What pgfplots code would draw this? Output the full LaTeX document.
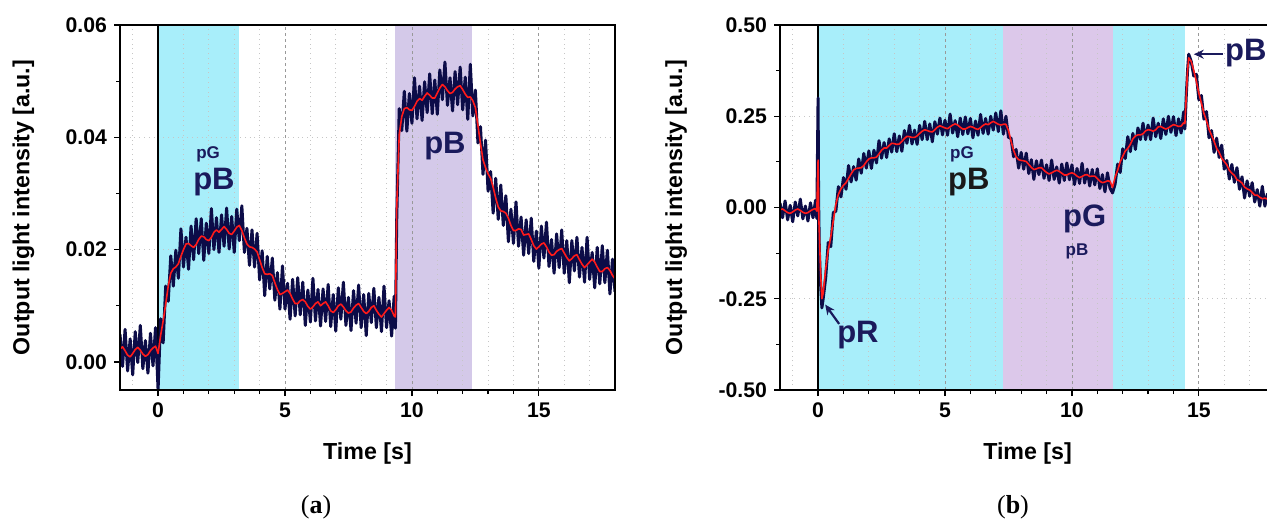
\documentclass[border=0pt]{standalone}
\usepackage{pgfplots}
\pgfplotsset{compat=1.18}
\usepackage{fontspec}
\setmainfont{Liberation Sans}
\newfontfamily\capfont{Liberation Serif}
\usetikzlibrary{arrows.meta}

\definecolor{trace}{HTML}{0C0C48}
\definecolor{redline}{HTML}{FF1A1A}
\definecolor{bandC}{HTML}{A8EEFA}
\definecolor{bandL}{HTML}{D4C9E9}
\definecolor{bandP}{HTML}{DCC8EA}
\definecolor{note}{HTML}{1A1A5C}

\tikzset{
  gridminor/.style={gray!45, dotted, line width=0.4pt},
  gridmajor/.style={gray!80, dash pattern=on 1.5pt off 1.5pt, line width=0.4pt},
  big/.style={note, font=\fontsize{15.5}{17}\selectfont\bfseries},
  small/.style={note, font=\fontsize{8.5}{10}\selectfont\bfseries},
  noisy/.style={trace, line width=1.5pt, line join=round},
  filt/.style={redline, line width=0.8pt, line join=round},
}

\pgfplotsset{
  panel/.style={
    scale only axis, width=247.5pt, height=182.5pt,
    xmin=-1.5, xmax=18,
    xtick={0,5,10,15}, minor x tick num=4, minor y tick num=1,
    tick pos=left, tick align=outside,
    major tick length=3pt, minor tick length=2pt,
    tick style={black, line width=0.6pt},
    axis line style={black, line width=0.7pt},
    axis on top,
    ticklabel style={font=\fontsize{10.6}{12}\selectfont\bfseries},
    /pgf/number format/assume math mode=true,
    xlabel={Time [s]}, ylabel={Output light intensity [a.u.]},
    label style={font=\fontsize{11.6}{13}\selectfont\bfseries},
    xlabel style={at={(axis description cs:0.5,-0.173)}, anchor=center},
    ylabel style={at={(axis description cs:-0.195,0.5)}, anchor=center},
  },
}

\begin{document}
\begin{tikzpicture}
\useasboundingbox (0,0) rectangle (633.5pt,260pt);

% (a) values in units of 0.001
\begin{axis}[panel, at={(60pt,65pt)}, anchor=south west,
  ymin=-5, ymax=60, ytick={0,20,40,60}, yticklabels={0.00,0.02,0.04,0.06}]
\fill[bandC] (axis cs:0,-5) rectangle (axis cs:3.2,60);
\fill[bandL] (axis cs:9.35,-5) rectangle (axis cs:12.35,60);
\pgfplotsinvokeforeach{-1,1,2,3,4,6,7,8,9,11,12,13,14,16,17}{\draw[gridminor] (axis cs:#1,-5) -- (axis cs:#1,60);}
\pgfplotsinvokeforeach{5,10,15}{\draw[gridmajor] (axis cs:#1,-5) -- (axis cs:#1,60);}
\pgfplotsinvokeforeach{20,40}{\draw[gridminor] (axis cs:-1.5,#1) -- (axis cs:18,#1);}
\draw[black, line width=0.6pt] (axis cs:0,-5) -- (axis cs:0,60);
\addplot[noisy] coordinates {
(-1.5,4.9)(-1.4,-0.8)(-1.3,5.8)(-1.2,-1.6)(-1.1,4.1)(-1.0,-2.3)(-0.9,5.4)(-0.8,-0.1)(-0.7,6.5)(-0.6,-1.2)
(-0.5,3.8)(-0.4,-2.0)(-0.3,5.1)(-0.2,-0.7)(-0.1,6.1)(0.0,-5.0)(0.1,7.7)(0.2,3.4)(0.3,13.5)(0.4,10.8)
(0.5,18.9)(0.6,13.5)(0.7,19.9)(0.8,14.9)(0.9,23.7)(1.0,16.9)(1.1,22.2)(1.2,16.5)(1.3,24.2)(1.4,18.2)
(1.5,25.5)(1.6,19.3)(1.7,25.5)(1.8,18.1)(1.9,24.7)(2.0,19.3)(2.1,27.3)(2.2,20.0)(2.3,25.7)(2.4,19.5)
(2.5,26.2)(2.6,20.6)(2.7,27.4)(2.8,20.1)(2.9,25.9)(3.0,19.5)(3.1,27.2)(3.2,21.6)(3.3,27.8)(3.4,19.5)
(3.5,23.8)(3.6,17.2)(3.7,23.5)(3.8,16.9)(3.9,22.9)(4.0,14.6)(4.1,19.8)(4.2,11.8)(4.3,18.8)(4.4,13.0)
(4.5,18.5)(4.6,11.0)(4.7,15.9)(4.8,9.4)(4.9,17.1)(5.0,9.4)(5.1,14.0)(5.2,7.6)(5.3,14.7)(5.4,8.2)
(5.5,15.0)(5.6,8.4)(5.7,14.2)(5.8,6.5)(5.9,12.8)(6.0,7.1)(6.1,14.9)(6.2,7.3)(6.3,12.9)(6.4,6.4)
(6.5,13.0)(6.6,7.2)(6.7,13.8)(6.8,6.3)(6.9,12.0)(7.0,5.5)(7.1,13.2)(7.2,7.6)(7.3,14.2)(7.4,6.5)
(7.5,11.5)(7.6,5.6)(7.7,12.7)(7.8,6.9)(7.9,13.7)(8.0,6.1)(8.1,12.0)(8.2,4.7)(8.3,12.2)(8.4,7.0)
(8.5,13.1)(8.6,6.1)(8.7,11.5)(8.8,5.4)(8.9,13.5)(9.0,6.1)(9.1,10.9)(9.2,4.6)(9.3,11.7)(9.35,6.0)
(9.4,25.1)(9.5,45.1)(9.6,41.2)(9.7,48.2)(9.8,41.1)(9.9,47.8)(10.0,42.5)(10.1,50.6)(10.2,43.3)(10.3,49.1)
(10.4,43.0)(10.5,49.9)(10.6,44.4)(10.7,51.3)(10.8,44.2)(10.9,50.2)(11.0,44.1)(11.1,52.0)(11.2,46.7)(11.3,53.4)
(11.4,45.7)(11.5,50.6)(11.6,44.7)(11.7,51.7)(11.8,45.8)(11.9,52.5)(12.0,44.9)(12.1,50.7)(12.2,43.2)(12.3,53.0)
(12.4,43.8)(12.5,48.4)(12.6,39.0)(12.7,41.9)(12.8,33.4)(12.9,39.5)(13.0,30.4)(13.1,33.9)(13.2,26.5)(13.3,32.7)
(13.4,25.4)(13.5,31.5)(13.6,24.3)(13.7,29.6)(13.8,21.4)(13.9,27.2)(14.0,21.1)(14.1,28.5)(14.2,20.6)(14.3,25.8)
(14.4,19.0)(14.5,25.3)(14.6,19.3)(14.7,25.6)(14.8,17.9)(14.9,23.3)(15.0,16.7)(15.1,24.2)(15.2,18.5)(15.3,24.9)
(15.4,17.0)(15.5,21.8)(15.6,15.8)(15.7,22.8)(15.8,16.8)(15.9,23.5)(16.0,15.8)(16.1,21.6)(16.2,14.1)(16.3,21.6)
(16.4,16.2)(16.5,22.2)(16.6,15.1)(16.7,20.4)(16.8,14.2)(16.9,22.2)(17.0,14.7)(17.1,19.5)(17.2,13.2)(17.3,20.4)
(17.4,13.9)(17.5,20.7)(17.6,14.1)(17.7,19.9)(17.8,12.1)(17.9,18.3)(18.0,12.5)
};
\addplot[filt] coordinates {
(-1.5,2.3)(-1.4,2.7)(-1.3,2.0)(-1.2,1.2)(-1.1,0.9)(-1.0,1.5)(-0.9,2.2)(-0.8,2.6)(-0.7,2.1)(-0.6,1.4)
(-0.5,1.0)(-0.4,1.3)(-0.3,2.0)(-0.2,2.5)(-0.1,2.8)(0.0,1.5)(0.1,4.7)(0.2,7.3)(0.3,10.3)(0.4,13.5)
(0.5,15.8)(0.6,16.6)(0.7,16.9)(0.8,17.5)(0.9,18.8)(1.0,20.0)(1.1,21.0)(1.2,21.1)(1.3,20.7)(1.4,20.4)
(1.5,20.9)(1.6,21.8)(1.7,22.4)(1.8,22.3)(1.9,21.8)(2.0,21.6)(2.1,22.2)(2.2,23.1)(2.3,23.5)(2.4,23.1)
(2.5,23.6)(2.6,24.1)(2.7,23.6)(2.8,22.9)(2.9,22.7)(3.0,23.3)(3.1,24.0)(3.2,24.3)(3.3,23.4)(3.4,22.1)
(3.5,21.0)(3.6,20.5)(3.7,20.4)(3.8,20.1)(3.9,19.6)(4.0,18.2)(4.1,16.8)(4.2,15.7)(4.3,15.6)(4.4,15.7)
(4.5,15.4)(4.6,14.1)(4.7,12.9)(4.8,12.0)(4.9,12.2)(5.0,12.5)(5.1,12.8)(5.2,12.2)(5.3,11.2)(5.4,10.4)
(5.5,10.4)(5.6,10.9)(5.7,11.1)(5.8,10.7)(5.9,9.9)(6.0,9.4)(6.1,9.8)(6.2,10.4)(6.3,10.7)(6.4,10.0)
(6.5,10.4)(6.6,10.7)(6.7,10.0)(6.8,9.1)(6.9,8.8)(7.0,9.3)(7.1,10.0)(7.2,10.3)(7.3,9.8)(7.4,9.1)
(7.5,8.7)(7.6,8.9)(7.7,9.6)(7.8,10.1)(7.9,10.4)(8.0,9.7)(8.1,9.0)(8.2,8.6)(8.3,9.0)(8.4,9.7)
(8.5,10.0)(8.6,9.2)(8.7,8.5)(8.8,8.0)(8.9,8.6)(9.0,9.2)(9.1,9.7)(9.2,9.2)(9.3,8.2)(9.35,8.0)
(9.4,27.3)(9.5,40.5)(9.6,43.7)(9.7,45.1)(9.8,45.3)(9.9,44.9)(10.0,44.8)(10.1,45.5)(10.2,46.4)(10.3,46.9)
(10.4,46.6)(10.5,47.3)(10.6,47.9)(10.7,47.5)(10.8,47.0)(10.9,47.0)(11.0,47.9)(11.1,48.8)(11.2,49.4)(11.3,49.0)
(11.4,48.3)(11.5,47.8)(11.6,48.0)(11.7,48.6)(11.8,49.0)(11.9,49.2)(12.0,48.5)(12.1,47.7)(12.2,47.1)(12.3,47.2)
(12.4,46.5)(12.5,45.3)(12.6,42.1)(12.7,38.9)(12.8,36.0)(12.9,34.6)(13.0,33.5)(13.1,32.7)(13.2,31.1)(13.3,29.2)
(13.4,27.6)(13.5,26.9)(13.6,26.8)(13.7,26.5)(13.8,25.6)(13.9,24.3)(14.0,23.4)(14.1,23.4)(14.2,23.7)(14.3,23.6)
(14.4,22.6)(14.5,22.7)(14.6,22.8)(14.7,21.8)(14.8,20.7)(14.9,20.1)(15.0,20.5)(15.1,21.0)(15.2,21.2)(15.3,20.5)
(15.4,19.6)(15.5,19.0)(15.6,19.1)(15.7,19.7)(15.8,20.0)(15.9,20.2)(16.0,19.4)(16.1,18.6)(16.2,18.0)(16.3,18.4)
(16.4,18.9)(16.5,19.1)(16.6,18.2)(16.7,17.4)(16.8,16.8)(16.9,17.3)(17.0,17.8)(17.1,18.3)(17.2,17.8)(17.3,16.9)
(17.4,16.1)(17.5,16.1)(17.6,16.6)(17.7,16.8)(17.8,16.3)(17.9,15.4)(18.0,14.8)
};
\node[small] at (axis cs:1.97,37.0) {pG};
\node[big] at (axis cs:2.2,32.0) {pB};
\node[big] at (axis cs:11.3,38.5) {pB};
\end{axis}

% (b) values in units of 0.01
\begin{axis}[panel, at={(390pt,65pt)}, anchor=south west,
  ymin=-50, ymax=50, ytick={-50,-25,0,25,50},
  yticklabels={-0.50,-0.25,0.00,0.25,0.50},
  ylabel style={at={(axis description cs:-0.21,0.5)}}]
\fill[bandC] (axis cs:0,-50) rectangle (axis cs:14.45,50);
\fill[bandP] (axis cs:7.3,-50) rectangle (axis cs:11.6,50);
\pgfplotsinvokeforeach{-1,1,2,3,4,6,7,8,9,11,12,13,14,16,17}{\draw[gridminor] (axis cs:#1,-50) -- (axis cs:#1,50);}
\pgfplotsinvokeforeach{5,10,15}{\draw[gridmajor] (axis cs:#1,-50) -- (axis cs:#1,50);}
\pgfplotsinvokeforeach{-25,0,25}{\draw[gridminor] (axis cs:-1.5,#1) -- (axis cs:18,#1);}
\draw[black, line width=0.6pt] (axis cs:0,-50) -- (axis cs:0,50);
\addplot[noisy] coordinates {
(-1.5,1.2)(-1.4,-2.8)(-1.3,1.8)(-1.2,-3.4)(-1.1,0.6)(-1.0,-3.9)(-0.9,1.5)(-0.8,-2.3)(-0.7,2.3)(-0.6,-3.1)
(-0.5,0.4)(-0.4,-3.7)(-0.3,1.3)(-0.2,-2.8)(-0.1,2.0)(-0.05,-3.0)(0.0,30)(0.02,2)(0.05,-12)(0.1,-21)(0.15,-27.5)(0.2,-25)
(0.3,-19.2)(0.4,-9.6)(0.5,-10.7)(0.6,-1.4)(0.7,-1.0)(0.8,5.7)(0.9,2.9)(1.0,8.2)(1.1,5.0)(1.2,11.5)
(1.3,7.0)(1.4,11.2)(1.5,7.5)(1.6,13.3)(1.7,9.4)(1.8,14.8)(1.9,10.8)(2.0,15.5)(2.1,10.7)(2.2,15.7)
(2.3,12.2)(2.4,18.3)(2.5,13.5)(2.6,17.8)(2.7,13.7)(2.8,18.8)(2.9,15.2)(3.0,20.2)(3.1,15.3)(3.2,19.6)
(3.3,15.4)(3.4,21.1)(3.5,17.6)(3.6,22.5)(3.7,17.4)(3.8,21.2)(3.9,17.3)(4.0,22.5)(4.1,18.6)(4.2,23.6)
(4.3,18.6)(4.4,22.9)(4.5,18.0)(4.6,23.5)(4.7,20.1)(4.8,24.5)(4.9,19.9)(5.0,23.9)(5.1,19.8)(5.2,25.6)
(5.3,20.4)(5.4,23.8)(5.5,19.4)(5.6,24.5)(5.7,20.0)(5.8,24.8)(5.9,20.2)(6.0,24.4)(6.1,19.1)(6.2,23.7)
(6.3,19.8)(6.4,25.5)(6.5,20.3)(6.6,24.4)(6.7,20.1)(6.8,25.0)(6.9,21.2)(7.0,25.9)(7.1,20.8)(7.2,26.5)
(7.3,20.1)(7.4,25.0)(7.5,19.2)(7.6,19.0)(7.7,13.9)(7.8,15.9)(7.9,10.8)(8.0,15.1)(8.1,10.5)(8.2,14.9)
(8.3,9.3)(8.4,13.1)(8.5,7.7)(8.6,12.8)(8.7,9.0)(8.8,13.0)(8.9,8.0)(9.0,11.7)(9.1,7.4)(9.2,13.0)
(9.3,7.7)(9.4,11.1)(9.5,6.7)(9.6,11.9)(9.7,7.4)(9.8,12.2)(9.9,7.6)(10.0,11.7)(10.1,6.3)(10.2,10.7)
(10.3,6.6)(10.4,12.1)(10.5,6.7)(10.6,10.5)(10.7,5.9)(10.8,10.4)(10.9,6.2)(11.0,10.6)(11.1,5.2)(11.2,9.0)
(11.3,4.3)(11.4,9.5)(11.5,5.3)(11.6,4.0)(11.7,6.4)(11.8,11.9)(11.9,9.6)(12.0,16.1)(12.1,13.4)(12.2,19.4)
(12.3,15.3)(12.4,20.3)(12.5,15.9)(12.6,21.8)(12.7,18.6)(12.8,23.1)(12.9,18.6)(13.0,22.6)(13.1,18.6)(13.2,24.5)
(13.3,19.4)(13.4,23.1)(13.5,18.9)(13.6,24.3)(13.7,20.0)(13.8,25.0)(13.9,20.6)(14.0,24.9)(14.1,19.7)(14.2,24.3)
(14.3,20.4)(14.4,26.2)(14.45,21.5)(14.5,30)(14.55,37)(14.6,42)(14.7,40)(14.8,36.0)(14.9,36.5)(15.0,29.5)
(15.1,30.7)(15.2,24.2)(15.3,26.3)(15.4,19.1)(15.5,21.1)(15.6,15.1)(15.7,19.0)(15.8,13.7)(15.9,17.1)(16.0,10.5)
(16.1,12.9)(16.2,7.8)(16.3,11.8)(16.4,6.9)(16.5,10.9)(16.6,5.0)(16.7,8.4)(16.8,2.6)(16.9,7.3)(17.0,3.1)
(17.1,6.8)(17.2,1.5)(17.3,4.9)(17.4,0.4)(17.5,5.8)(17.6,0.4)(17.7,3.7)(17.8,-0.8)(17.9,4.3)(18.0,-0.2)
};
\addplot[filt] coordinates {
(-1.5,-0.6)(-1.4,-0.4)(-1.3,-0.9)(-1.2,-1.4)(-1.1,-1.6)(-1.0,-1.2)(-0.9,-0.7)(-0.8,-0.4)(-0.7,-0.8)(-0.6,-1.3)
(-0.5,-1.6)(-0.4,-1.4)(-0.3,-0.9)(-0.2,-0.5)(-0.1,-0.3)(-0.05,-1.0)(0.0,13)(0.03,-3)(0.1,-18)(0.15,-25)(0.2,-23.5)
(0.3,-16.7)(0.4,-11.7)(0.5,-8.0)(0.6,-3.6)(0.7,0.9)(0.8,3.6)(0.9,5.1)(1.0,6.1)(1.1,6.8)(1.2,8.0)
(1.3,9.2)(1.4,10.3)(1.5,10.7)(1.6,10.8)(1.7,10.9)(1.8,11.5)(1.9,12.5)(2.0,13.3)(2.1,13.6)(2.2,13.6)
(2.3,13.8)(2.4,14.7)(2.5,15.7)(2.6,16.3)(2.7,16.3)(2.8,17.0)(2.9,17.6)(3.0,17.5)(3.1,17.3)(3.2,17.4)
(3.3,18.1)(3.4,18.9)(3.5,19.5)(3.6,19.4)(3.7,19.2)(3.8,19.2)(3.9,19.6)(4.0,20.3)(4.1,20.9)(4.2,21.3)
(4.3,21.1)(4.4,20.8)(4.5,20.7)(4.6,21.3)(4.7,22.0)(4.8,22.4)(4.9,22.1)(5.0,21.8)(5.1,21.6)(5.2,22.1)
(5.3,22.6)(5.4,22.9)(5.5,22.6)(5.6,22.0)(5.7,21.5)(5.8,21.5)(5.9,21.9)(6.0,22.2)(6.1,22.0)(6.2,21.6)
(6.3,21.4)(6.4,21.9)(6.5,22.5)(6.6,22.9)(6.7,22.7)(6.8,23.2)(6.9,23.6)(7.0,23.2)(7.1,22.8)(7.2,22.6)
(7.3,22.8)(7.4,22.8)(7.5,21.1)(7.6,18.2)(7.7,15.7)(7.8,13.9)(7.9,13.1)(8.0,12.9)(8.1,12.8)(8.2,12.6)
(8.3,11.8)(8.4,11.0)(8.5,10.4)(8.6,10.6)(8.7,10.9)(8.8,10.9)(8.9,10.2)(9.0,9.6)(9.1,9.2)(9.2,9.5)
(9.3,9.9)(9.4,10.2)(9.5,9.9)(9.6,9.4)(9.7,8.9)(9.8,8.9)(9.9,9.3)(10.0,9.5)(10.1,9.2)(10.2,8.6)
(10.3,8.2)(10.4,8.5)(10.5,8.9)(10.6,9.0)(10.7,8.5)(10.8,8.6)(10.9,8.6)(11.0,7.9)(11.1,7.2)(11.2,6.8)
(11.3,7.0)(11.4,7.3)(11.5,7.2)(11.6,5.5)(11.7,8.3)(11.8,10.2)(11.9,12.5)(12.0,14.0)(12.1,15.5)(12.2,16.2)
(12.3,17.3)(12.4,18.8)(12.5,19.6)(12.6,19.9)(12.7,19.9)(12.8,20.2)(12.9,21.0)(13.0,21.3)(13.1,21.2)(13.2,20.9)
(13.3,21.3)(13.4,22.1)(13.5,22.2)(13.6,21.8)(13.7,21.5)(13.8,21.8)(13.9,22.3)(14.0,22.7)(14.1,22.5)(14.2,22.2)
(14.3,22.3)(14.4,23.2)(14.45,23.0)(14.5,30)(14.55,37)(14.6,41)(14.7,40)(14.8,37.5)(14.9,34.6)(15.0,31.3)
(15.1,28.6)(15.2,25.8)(15.3,23.8)(15.4,21.4)(15.5,19.8)(15.6,18.1)(15.7,16.2)(15.8,15.1)(15.9,13.5)(16.0,12.6)
(16.1,11.7)(16.2,10.2)(16.3,9.4)(16.4,8.8)(16.5,7.6)(16.6,7.3)(16.7,6.7)(16.8,5.6)(16.9,5.1)(17.0,4.8)
(17.1,4.1)(17.2,3.4)(17.3,3.4)(17.4,2.8)(17.5,2.4)(17.6,2.6)(17.7,2.3)(17.8,1.8)(17.9,2.1)(18.0,1.7)
};
\node[small] at (axis cs:5.67,14.6) {pG};
\node[big, black!90] at (axis cs:5.94,7.1) {pB};
\node[big] at (axis cs:10.5,-3.0) {pG};
\node[small] at (axis cs:10.2,-11.9) {pB};
\node[big] at (axis cs:1.57,-34.9) {pR};
\draw[-{Stealth[length=5pt,width=4.5pt]}, note, line width=1.1pt] (axis cs:0.83,-31.9) -- (axis cs:0.28,-26.6);
\draw[-{Stealth[length=5pt,width=4.5pt]}, note, line width=1.1pt] (axis cs:15.95,42) -- (axis cs:14.8,42);
\node[big, anchor=west, inner sep=0pt] at (axis cs:16.02,42.3) {pB};
\end{axis}

\node[font=\capfont\fontsize{13}{15}\selectfont] at (158pt,6.5pt) {(\textbf{a})};
\node[font=\capfont\fontsize{13}{15}\selectfont] at (506.5pt,6.5pt) {(\textbf{b})};
\end{tikzpicture}
\end{document}
